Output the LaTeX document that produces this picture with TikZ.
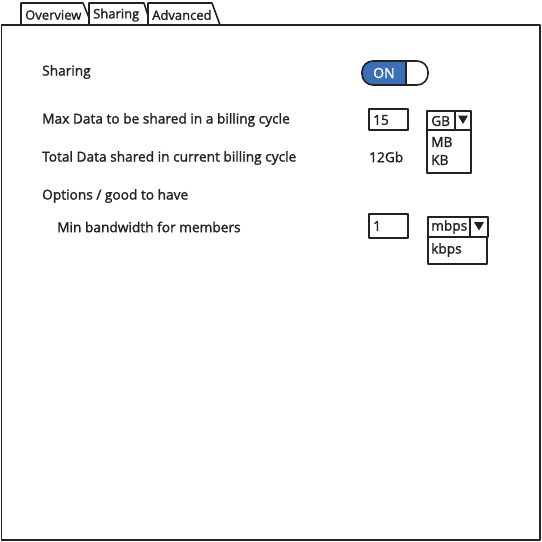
\documentclass[tikz,border=0pt]{standalone}
\usepackage{fontspec}
\setmainfont{Open Sans}
\newcommand\lblfont{\fontspec{Open Sans}[FakeBold=1.6]}
\definecolor{togblue}{HTML}{3B6FB6}
\definecolor{ink}{HTML}{222222}
\begin{document}
\begin{tikzpicture}[x=1pt,y=-1pt,
  ln/.style={draw=ink,line width=1.6pt,line join=round},
  tabshape/.style={ln,fill=white},
  lbl/.style={anchor=west,inner sep=0pt,font=\lblfont\fontsize{13.7}{15}\selectfont,text=ink},
  tablbl/.style={anchor=west,inner sep=0pt,font=\lblfont\fontsize{13}{15}\selectfont,text=ink},
  field/.style={ln,fill=white},
  tri/.style={fill=ink,draw=none}]
\useasboundingbox (0,0) rectangle (542,542);
% tabs
\draw[tabshape] (21,25) -- (21,3) -- (83,3) -- (92,25);
\draw[tabshape] (89,25) -- (89,3) -- (144,3) -- (151,25);
\draw[tabshape] (148,25) -- (148,3) -- (212,3) -- (220,25);
\node[tablbl] (tOverview) at (25,15) {Overview};
\node[tablbl] (tSharing) at (93,15) {Sharing};
\node[tablbl] (tAdvanced) at (152,15) {Advanced};
% panel
\draw[ln] (1.5,25) rectangle (540,540);
% labels
\node[lbl] (lSharing) at (42,72) {Sharing};
\node[lbl] (lMax) at (42,120) {Max Data to be shared in a billing cycle};
\node[lbl] (lTotal) at (42,158) {Total Data shared in current billing cycle};
\node[lbl] (lOpt) at (42,196) {Options / good to have};
\node[lbl] (lMin) at (57,227) {Min bandwidth for members};
% toggle
\begin{scope}
\clip (355,55) rectangle (406,92);
\fill[togblue,rounded corners=11pt] (362,61) rectangle (428,85);
\end{scope}
\draw[ln,rounded corners=11pt] (362,61) rectangle (428,85);
\draw[ln] (406,61) -- (406,85);
\node[anchor=center,inner sep=0pt,font=\lblfont\fontsize{14}{16}\selectfont,text=white] (tON) at (384,73) {ON};
% max data field
\draw[field] (369,109) rectangle (408,130);
\node[lbl] (v15) at (373,120) {15};
\node[lbl] (v12) at (369,157) {12Gb};
% GB dropdown
\draw[field] (427,111) rectangle (471,130);
\draw[ln] (455,111) -- (455,130);
\fill[tri] (458,115.5) -- (468,115.5) -- (463,124) -- cycle;
\node[lbl] (vGB) at (431,121) {GB};
\draw[field] (427,130) rectangle (471,173);
\node[lbl] (vMB) at (431,142) {MB};
\node[lbl] (vKB) at (431,160) {KB};
% min bandwidth field
\draw[field] (369,214) rectangle (408,238);
\node[lbl] (v1) at (373,226) {1};
\draw[field] (428,217) rectangle (488,237);
\draw[ln] (470,217) -- (470,237);
\fill[tri] (474,222) -- (484,222) -- (479,230.5) -- cycle;
\node[lbl] (vmbps) at (431,227) {mbps};
\draw[field] (428,237) rectangle (487,264);
\node[lbl] (vkbps) at (431,250) {kbps};
\end{tikzpicture}
\end{document}
